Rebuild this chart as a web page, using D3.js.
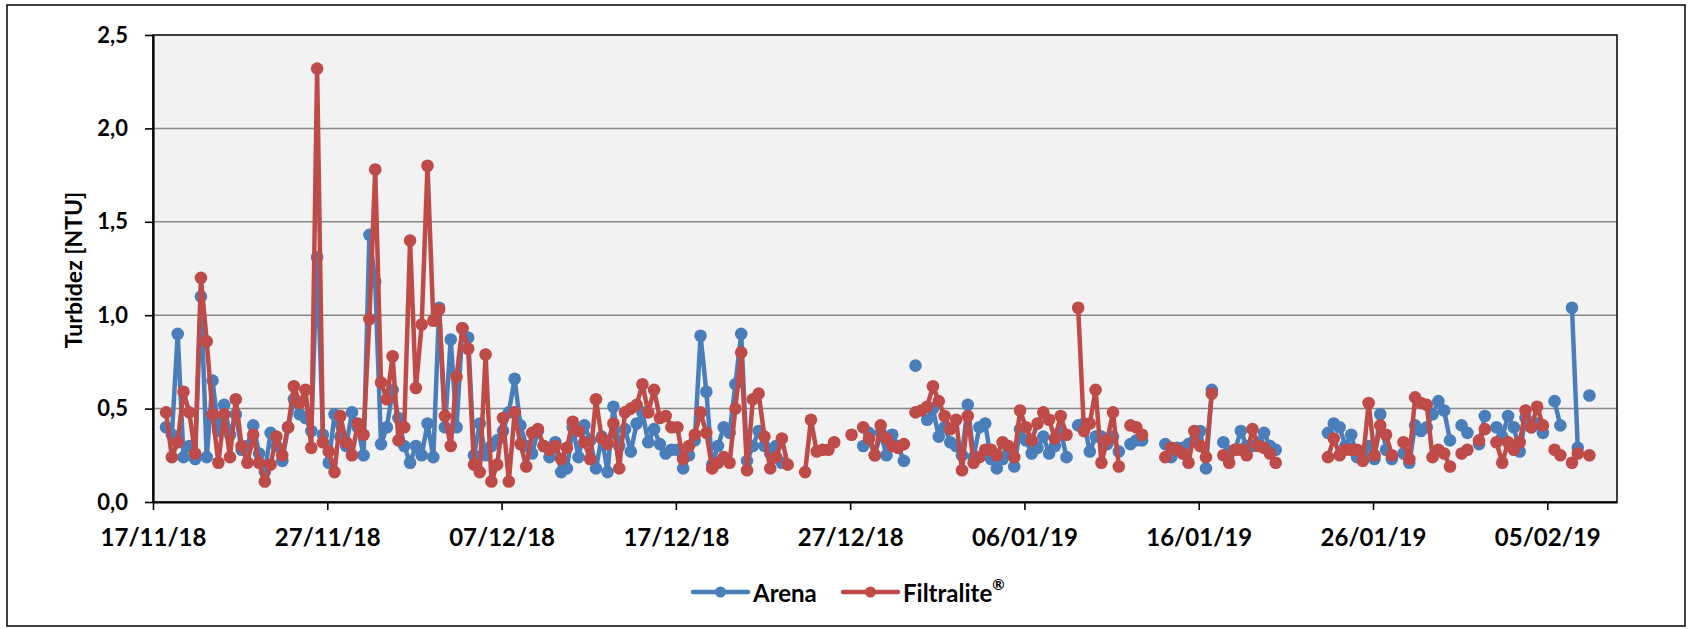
<!DOCTYPE html>
<html>
<head>
<meta charset="utf-8">
<script src="https://cdn.jsdelivr.net/npm/d3@7"></script>
<style>
  body { margin: 0; background: #fff; }
  text { font-family: Lato, "DejaVu Sans", sans-serif; font-weight: bold; fill: #000; }
</style>
</head>
<body>
<svg id="chart" width="1688" height="629"></svg>
<script>
// one row per day, three samples per day (at sampleHours); null = empty cell
const days = [
  "2018-11-17","2018-11-18","2018-11-19","2018-11-20","2018-11-21","2018-11-22","2018-11-23",
  "2018-11-24","2018-11-25","2018-11-26","2018-11-27","2018-11-28","2018-11-29","2018-11-30",
  "2018-12-01","2018-12-02","2018-12-03","2018-12-04","2018-12-05","2018-12-06","2018-12-07",
  "2018-12-08","2018-12-09","2018-12-10","2018-12-11","2018-12-12","2018-12-13","2018-12-14",
  "2018-12-15","2018-12-16","2018-12-17","2018-12-18","2018-12-19","2018-12-20","2018-12-21",
  "2018-12-22","2018-12-23","2018-12-24","2018-12-25","2018-12-26","2018-12-27","2018-12-28",
  "2018-12-29","2018-12-30","2018-12-31","2019-01-01","2019-01-02","2019-01-03","2019-01-04",
  "2019-01-05","2019-01-06","2019-01-07","2019-01-08","2019-01-09","2019-01-10","2019-01-11",
  "2019-01-12","2019-01-13","2019-01-14","2019-01-15","2019-01-16","2019-01-17","2019-01-18",
  "2019-01-19","2019-01-20","2019-01-21","2019-01-22","2019-01-23","2019-01-24","2019-01-25",
  "2019-01-26","2019-01-27","2019-01-28","2019-01-29","2019-01-30","2019-01-31","2019-02-01",
  "2019-02-02","2019-02-03","2019-02-04","2019-02-05","2019-02-06","2019-02-07","2019-02-08"
];
const sampleHours = [2, 10, 18];

const arena = [
  [null,null,0.40],[0.36,0.90,0.24],[0.30,0.23,1.10],[0.24,0.65,0.38],[0.52,0.36,0.47],[0.28,0.30,0.41],[0.26,0.16,0.37],
  [0.30,0.22,0.40],[0.55,0.47,0.45],[0.38,1.31,0.36],[0.21,0.47,0.35],[0.30,0.48,0.40],[0.25,1.43,1.18],[0.31,0.40,0.60],
  [0.45,0.30,0.21],[0.30,0.25,0.42],[0.24,1.04,0.40],[0.87,0.40,0.93],[0.88,0.25,0.42],[0.25,0.30,0.33],[0.38,0.48,0.66],
  [0.41,0.30,0.26],[0.38,0.30,0.24],[0.32,0.16,0.18],[0.40,0.24,0.41],[0.33,0.18,0.35],[0.16,0.51,0.30],[0.39,0.27,0.42],
  [0.48,0.32,0.39],[0.31,0.26,0.28],[0.28,0.18,0.25],[0.33,0.89,0.59],[0.20,0.30,0.40],[0.37,0.63,0.90],[0.22,0.30,0.38],
  [0.30,0.26,0.30],[0.21,null,null],[null,null,null],[null,null,null],[null,null,null],[null,null,0.30],[0.37,0.25,0.37],
  [0.25,0.36,0.30],[0.22,null,0.73],[null,0.44,0.50],[0.35,0.40,0.32],[0.30,0.25,0.52],[0.24,0.40,0.42],[0.23,0.18,0.23],
  [0.27,0.19,0.39],[0.33,0.26,0.29],[0.35,0.26,0.30],[0.38,0.24,null],[0.41,0.42,0.27],[0.35,0.35,0.31],[0.35,0.27,null],
  [0.31,0.33,0.33],[null,null,null],[0.31,0.24,0.29],[0.29,0.31,0.33],[0.38,0.18,0.60],[null,0.32,0.27],[0.28,0.38,0.30],
  [0.30,0.32,0.37],[0.30,0.28,null],[null,null,null],[null,null,null],[null,0.37,0.42],[0.40,0.30,0.36],[0.24,0.25,0.30],
  [0.23,0.47,0.28],[0.23,null,0.26],[0.21,0.41,0.38],[0.40,0.47,0.54],[0.49,0.33,null],[0.41,0.37,null],[0.31,0.46,null],
  [0.40,0.35,0.46],[0.40,0.27,0.45],[0.40,0.42,0.37],[null,0.54,0.41],[null,1.04,0.29],[null,0.57,null],[null,null,null]
];

const filtralite = [
  [null,null,0.48],[0.24,0.32,0.59],[0.48,0.26,1.20],[0.86,0.47,0.21],[0.47,0.24,0.55],[0.30,0.21,0.36],[0.21,0.11,0.20],
  [0.35,0.25,0.40],[0.62,0.53,0.60],[0.29,2.32,0.32],[0.27,0.16,0.46],[0.32,0.25,0.42],[0.36,0.98,1.78],[0.64,0.55,0.78],
  [0.33,0.40,1.40],[0.61,0.95,1.80],[0.97,1.03,0.46],[0.30,0.67,0.93],[0.82,0.20,0.16],[0.79,0.11,0.20],[0.45,0.11,0.48],
  [0.31,0.19,0.37],[0.39,0.30,0.28],[0.30,0.23,0.29],[0.43,0.38,0.32],[0.23,0.55,0.34],[0.31,0.42,0.18],[0.48,0.50,0.52],
  [0.63,0.48,0.60],[0.45,0.46,0.40],[0.40,0.23,0.30],[0.36,0.48,0.37],[0.18,0.21,0.24],[0.21,0.50,0.80],[0.17,0.55,0.58],
  [0.35,0.18,0.24],[0.34,0.20,null],[null,0.16,0.44],[0.27,0.28,0.28],[0.32,null,null],[0.36,null,0.40],[0.34,0.25,0.41],
  [0.34,0.30,0.29],[0.31,null,0.48],[0.49,0.51,0.62],[0.54,0.46,0.39],[0.44,0.17,0.46],[0.21,0.24,0.28],[0.28,0.25,0.32],
  [0.30,0.24,0.49],[0.40,0.33,0.42],[0.48,0.44,0.34],[0.46,0.36,null],[1.04,0.38,0.42],[0.60,0.21,0.33],[0.48,0.19,null],
  [0.41,0.40,0.36],[null,null,null],[0.24,0.29,0.28],[0.26,0.21,0.38],[0.30,0.24,0.58],[null,0.25,0.21],[0.28,0.28,0.25],
  [0.39,0.30,0.29],[0.26,0.21,null],[null,null,null],[null,null,null],[null,0.24,0.34],[0.25,0.28,0.28],[0.28,0.22,0.53],
  [0.25,0.41,0.36],[0.25,null,0.32],[0.23,0.56,0.53],[0.52,0.24,0.28],[0.26,0.19,null],[0.26,0.28,null],[0.33,0.39,null],
  [0.32,0.21,0.32],[0.28,0.32,0.49],[0.40,0.51,0.41],[null,0.28,0.25],[null,0.21,0.26],[null,0.25,null],[null,null,null]
];

const xTickDays = ["2018-11-17","2018-11-27","2018-12-07","2018-12-17","2018-12-27",
                   "2019-01-06","2019-01-16","2019-01-26","2019-02-05"];
const yTicks = [0, 0.5, 1.0, 1.5, 2.0, 2.5];
const seriesNames = ["Arena", "Filtralite"];
const seriesColors = ["#4a7ebb", "#be4b48"];

const parseDay = d3.timeParse("%Y-%m-%d");
const fmtDate = d3.timeFormat("%d/%m/%y");
const fmtNum = d3.formatLocale({decimal: ",", thousands: ".", grouping: [3], currency: ["", ""]}).format(".1f");

const plot = { left: 153, right: 1617, top: 35, bottom: 502 };

const x = d3.scaleTime()
  .domain([parseDay("2018-11-17"), parseDay("2019-02-09")])
  .range([plot.left, plot.right]);
const y = d3.scaleLinear()
  .domain([0, 2.5])
  .range([plot.bottom, plot.top]);

function toPoints(series) {
  const pts = [];
  days.forEach((d, i) => {
    series[i].forEach((v, s) => {
      const t = parseDay(d);
      t.setHours(sampleHours[s]);
      pts.push({ t: t, v: v });
    });
  });
  return pts;
}

const svg = d3.select("#chart");

// chart frame
svg.append("rect")
  .attr("x", 7).attr("y", 5).attr("width", 1678).attr("height", 621)
  .attr("fill", "#fff").attr("stroke", "#000").attr("stroke-width", 1.5);

// plot area
svg.append("rect")
  .attr("x", plot.left).attr("y", plot.top)
  .attr("width", plot.right - plot.left).attr("height", plot.bottom - plot.top)
  .attr("fill", "#f2f2f2");

svg.append("g").selectAll("line")
  .data(yTicks.filter(t => t > 0 && t < 2.5))
  .join("line")
    .attr("x1", plot.left).attr("x2", plot.right)
    .attr("y1", d => y(d)).attr("y2", d => y(d))
    .attr("stroke", "#878787").attr("stroke-width", 1.5);

svg.append("rect")
  .attr("x", plot.left).attr("y", plot.top)
  .attr("width", plot.right - plot.left).attr("height", plot.bottom - plot.top)
  .attr("fill", "none").attr("stroke", "#000").attr("stroke-width", 1.5);

// axes
const yAxis = svg.append("g")
  .attr("transform", `translate(${plot.left},0)`)
  .call(d3.axisLeft(y).tickValues(yTicks).tickFormat(fmtNum).tickSize(8).tickSizeOuter(0).tickPadding(17));
yAxis.selectAll("text").style("font-size", "22px");

const xAxis = svg.append("g")
  .attr("transform", `translate(0,${plot.bottom})`)
  .call(d3.axisBottom(x).tickValues(xTickDays.map(parseDay)).tickFormat(fmtDate)
    .tickSize(8).tickSizeOuter(0).tickPadding(19));
xAxis.selectAll("text").style("font-size", "24px");

[yAxis, xAxis].forEach(a => {
  a.select(".domain").attr("stroke", "#000").attr("stroke-width", 2.2);
  a.selectAll(".tick line").attr("stroke", "#000").attr("stroke-width", 1.6);
});

svg.append("text")
  .attr("transform", "translate(73,270) rotate(-90)")
  .attr("text-anchor", "middle")
  .attr("dominant-baseline", "central")
  .style("font-size", "23px")
  .text("Turbidez [NTU]");

// series
const line = d3.line()
  .defined(d => d.v != null)
  .x(d => x(d.t))
  .y(d => y(d.v));

[arena, filtralite].forEach((series, i) => {
  const pts = toPoints(series);
  const g = svg.append("g");
  g.append("path")
    .datum(pts)
    .attr("d", line)
    .attr("fill", "none")
    .attr("stroke", seriesColors[i])
    .attr("stroke-width", 4.5)
    .attr("stroke-linejoin", "round");
  g.selectAll("circle")
    .data(pts.filter(d => d.v != null))
    .join("circle")
      .attr("cx", d => x(d.t))
      .attr("cy", d => y(d.v))
      .attr("r", 6.3)
      .attr("fill", seriesColors[i]);
});

// legend
const legendX = [693, 843];
const legend = svg.append("g").attr("transform", "translate(0,592)");
seriesNames.forEach((name, i) => {
  const g = legend.append("g").attr("transform", `translate(${legendX[i]},0)`);
  g.append("line").attr("x1", 0).attr("x2", 55).attr("y1", 0).attr("y2", 0)
    .attr("stroke", seriesColors[i]).attr("stroke-width", 4.5).attr("stroke-linecap", "round");
  g.append("circle").attr("cx", 27.5).attr("cy", 0).attr("r", 5.5).attr("fill", seriesColors[i]);
  const t = g.append("text").attr("x", 60).attr("y", 0)
    .attr("dominant-baseline", "central")
    .style("font-size", "24px")
    .text(name);
  if (i === 1) {
    t.append("tspan").attr("dy", -8).style("font-size", "15px").text("®");
  }
});
</script>
</body>
</html>
